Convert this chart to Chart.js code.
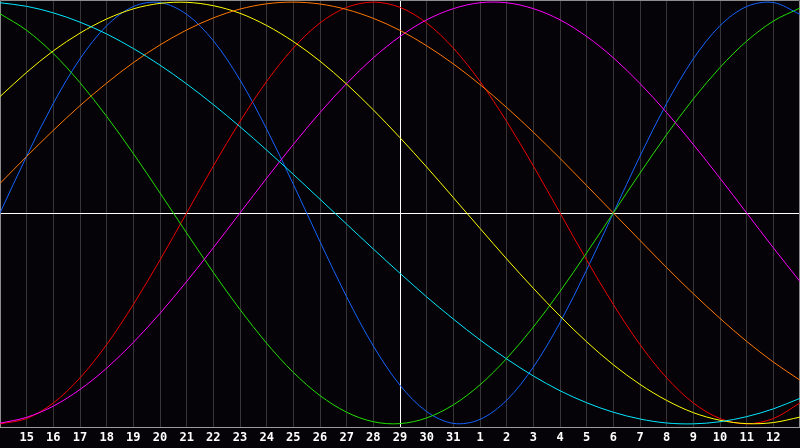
<!DOCTYPE html>
<html>
<head>
<meta charset="utf-8">
<script src="https://cdn.jsdelivr.net/npm/chart.js@4.4.1/dist/chart.umd.min.js"></script>
<style>
    html, body { margin: 0; padding: 0; background: #050307; }
    #wrap { position: relative; width: 800px; height: 448px; }
</style>
</head>
<body>
<div id="wrap"><canvas id="bio-canvas"></canvas></div>
<script>
// Day labels along the bottom (first and last are at the edges, not printed)
const dayLabels = [14, 15, 16, 17, 18, 19, 20, 21, 22, 23, 24, 25, 26, 27, 28, 29, 30, 31,
    1, 2, 3, 4, 5, 6, 7, 8, 9, 10, 11, 12, 13];
const todayIndex = 15; // the "29" column with the white marker

// Curve values per day (-1 .. 1)
const blueValues = [0, 0.270, 0.520, 0.731, 0.888, 0.979, 0.998, 0.942, 0.817, 0.631, 0.398,
    0.136, -0.136, -0.398, -0.631, -0.817, -0.942, -0.998, -0.979, -0.888, -0.731,
    -0.520, -0.270, 0, 0.270, 0.520, 0.731, 0.888, 0.979, 0.998, 0.942];
const redValues = [-1, -0.975, -0.901, -0.782, -0.624, -0.434, -0.223, 0, 0.223, 0.434, 0.624,
    0.782, 0.901, 0.975, 1, 0.975, 0.901, 0.782, 0.624, 0.434, 0.223,
    0, -0.223, -0.434, -0.624, -0.782, -0.901, -0.975, -1, -0.975, -0.901];
const greenValues = [0.945, 0.866, 0.756, 0.618, 0.458, 0.282, 0.095, -0.095, -0.282, -0.458, -0.618,
    -0.756, -0.866, -0.945, -0.990, -0.999, -0.972, -0.910, -0.815, -0.690, -0.541,
    -0.372, -0.189, 0, 0.189, 0.372, 0.541, 0.690, 0.815, 0.910, 0.972];
const magentaValues = [-0.997, -0.969, -0.916, -0.837, -0.736, -0.614, -0.476, -0.325, -0.165, 0, 0.165,
    0.325, 0.476, 0.614, 0.736, 0.837, 0.916, 0.969, 0.997, 0.997, 0.969,
    0.916, 0.837, 0.736, 0.614, 0.476, 0.325, 0.165, 0, -0.165, -0.325];
const yellowValues = [0.552, 0.667, 0.769, 0.853, 0.920, 0.968, 0.994, 0.999, 0.983, 0.947, 0.889,
    0.813, 0.720, 0.611, 0.489, 0.357, 0.218, 0.073, -0.073, -0.218, -0.357,
    -0.489, -0.611, -0.720, -0.813, -0.889, -0.947, -0.983, -0.999, -0.994, -0.968];
const orangeValues = [0.140, 0.268, 0.392, 0.509, 0.616, 0.713, 0.797, 0.868, 0.925, 0.967, 0.992,
    1, 0.991, 0.965, 0.923, 0.866, 0.793, 0.707, 0.609, 0.500, 0.383,
    0.259, 0.130, 0, -0.130, -0.259, -0.383, -0.500, -0.609, -0.707, -0.793];
const cyanValues = [0.997, 0.980, 0.949, 0.905, 0.849, 0.780, 0.701, 0.612, 0.514, 0.409, 0.298,
    0.183, 0.065, -0.053, -0.171, -0.286, -0.398, -0.503, -0.602, -0.692, -0.773,
    -0.843, -0.900, -0.945, -0.977, -0.996, -1.000, -0.990, -0.966, -0.929, -0.879];

const seriesColors = {
    blue: '#1464ff',
    red: '#f00000',
    green: '#22e000',
    magenta: '#ff00ff',
    yellow: '#ffff00',
    orange: '#ff7800',
    cyan: '#00e8ff'
};

// Frame, zero line and today marker
const markerPlugin = {
    id: 'markers',
    beforeDatasetsDraw(chart) {
        const { ctx, chartArea } = chart;
        const x = Math.round(chart.scales.x.getPixelForValue(todayIndex)) + 0.5;
        const y = Math.round(chart.scales.y.getPixelForValue(0)) + 0.5;
        ctx.save();
        ctx.lineWidth = 1;
        ctx.strokeStyle = '#ffffff';
        ctx.beginPath();
        ctx.moveTo(chartArea.left, y);
        ctx.lineTo(chartArea.right, y);
        ctx.moveTo(x, chartArea.top);
        ctx.lineTo(x, chartArea.bottom);
        ctx.stroke();
        ctx.strokeStyle = '#8c8c8c';
        ctx.beginPath();
        ctx.moveTo(chartArea.left + 0.5, chartArea.bottom);
        ctx.lineTo(chartArea.left + 0.5, chartArea.top + 0.5);
        ctx.lineTo(chartArea.right - 0.5, chartArea.top + 0.5);
        ctx.lineTo(chartArea.right - 0.5, chartArea.bottom);
        ctx.stroke();
        ctx.restore();
    }
};

function makeSet(values, color) {
    return {
        data: values,
        borderColor: color,
        borderWidth: 1,
        pointRadius: 0,
        tension: 0.33,
        fill: false
    };
}

document.addEventListener('DOMContentLoaded', function() {
    const ctx = document.getElementById('bio-canvas');
    new Chart(ctx, {
        type: 'line',
        data: {
            labels: dayLabels,
            datasets: [
                makeSet(cyanValues, seriesColors.cyan),
                makeSet(orangeValues, seriesColors.orange),
                makeSet(yellowValues, seriesColors.yellow),
                makeSet(magentaValues, seriesColors.magenta),
                makeSet(greenValues, seriesColors.green),
                makeSet(redValues, seriesColors.red),
                makeSet(blueValues, seriesColors.blue)
            ]
        },
        options: {
            responsive: true,
            maintainAspectRatio: false,
            animation: false,
            layout: { padding: 0 },
            plugins: {
                legend: { display: false },
                tooltip: { enabled: false }
            },
            scales: {
                x: {
                    offset: false,
                    grid: {
                        color: '#363636',
                        drawTicks: false
                    },
                    border: { display: true, color: '#9a9a9a' },
                    ticks: {
                        color: '#ffffff',
                        autoSkip: false,
                        maxRotation: 0,
                        padding: 4,
                        font: { family: 'DejaVu Sans Mono', size: 12, weight: 'bold' },
                        callback: function(value, index) {
                            if (index === 0 || index === dayLabels.length - 1) return '';
                            return dayLabels[index];
                        }
                    },
                    afterFit: function(scale) {
                        // labels hang below the plot; no side padding, plot ends at y=427
                        scale.paddingLeft = 0;
                        scale.paddingRight = 0;
                        scale.height = 21;
                    }
                },
                y: {
                    display: false,
                    min: -1.015,
                    max: 1.01
                }
            }
        },
        plugins: [markerPlugin]
    });
});
</script>
</body>
</html>
